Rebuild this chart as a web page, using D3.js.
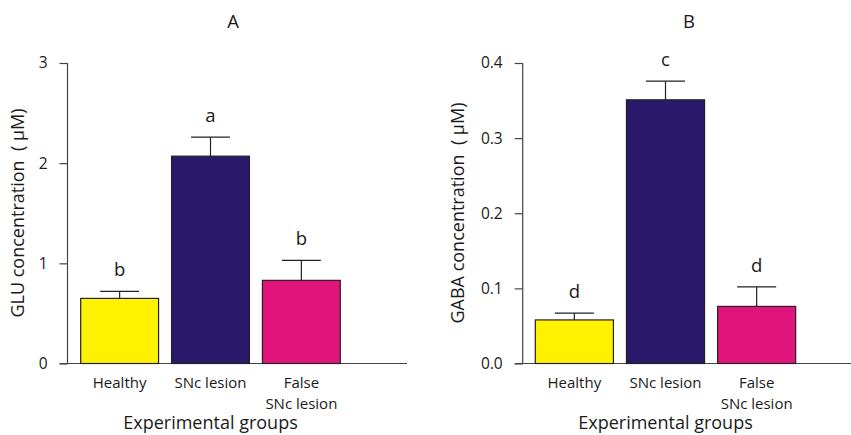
<!DOCTYPE html>
<html>
<head>
<meta charset="utf-8">
<script src="https://cdn.jsdelivr.net/npm/d3@7"></script>
<style>
  body { margin: 0; background: #fff; }
  svg text { font-family: "Open Sans", "Noto Sans", sans-serif; fill: #1a1a1a; white-space: pre; }
</style>
</head>
<body>
<svg id="chart" width="851" height="435"></svg>
<script>
// data
const groups = ["Healthy", "SNc lesion", "False SNc lesion"];
const groupLines = [["Healthy"], ["SNc lesion"], ["False", "SNc lesion"]];
const barColors = ["#fff200", "#2a186b", "#e0147a"];

const gluMean = [0.65, 2.07, 0.83];
const gluErr = [0.07, 0.19, 0.20];
const gluLetters = ["b", "a", "b"];
const gluTicks = [0, 1, 2, 3];

const gabaMean = [0.058, 0.351, 0.076];
const gabaErr = [0.009, 0.025, 0.026];
const gabaLetters = ["d", "c", "d"];
const gabaTicks = [0, 0.1, 0.2, 0.3, 0.4];

const svg = d3.select("#chart");

// one panel: axes, bars, error bars, letters
function drawPanel(p) {
    const g = svg.append("g");

    const y = d3.scaleLinear().domain(p.domain).range([363.5, 63]);
    const x = d3.scaleBand().domain(groups).range(p.barRange).paddingInner(0.143).paddingOuter(0);

    // y axis
    const yAxis = d3.axisLeft(y).tickValues(p.ticks).tickSize(8).tickFormat(p.fmt);
    const ya = g.append("g").attr("transform", `translate(${p.axisX},0)`).call(yAxis);
    ya.select(".domain").attr("d", `M0,${y(p.domain[0])}V${y(p.domain[1])}`);
    ya.selectAll("line, path").attr("stroke", "#444").attr("stroke-width", 1.2);
    ya.selectAll("text").attr("font-size", 15.5).attr("x", -20).attr("fill", "#1a1a1a");

    // x axis baseline
    g.append("line")
        .attr("x1", p.axisX - 8).attr("x2", p.axisEnd)
        .attr("y1", y(0)).attr("y2", y(0))
        .attr("stroke", "#444").attr("stroke-width", 1.2);

    const rows = groups.map((k, i) => ({key: k, mean: p.mean[i], err: p.err[i], letter: p.letters[i], color: barColors[i], lines: groupLines[i]}));

    // error bars behind bars
    const errG = g.append("g").attr("stroke", "#222").attr("stroke-width", 1.2);
    errG.selectAll("line.v").data(rows).join("line").attr("class", "v")
        .attr("x1", d => x(d.key) + x.bandwidth() / 2)
        .attr("x2", d => x(d.key) + x.bandwidth() / 2)
        .attr("y1", d => y(d.mean)).attr("y2", d => y(d.mean + d.err));
    errG.selectAll("line.c").data(rows).join("line").attr("class", "c")
        .attr("x1", d => x(d.key) + x.bandwidth() / 4)
        .attr("x2", d => x(d.key) + x.bandwidth() * 3 / 4)
        .attr("y1", d => y(d.mean + d.err)).attr("y2", d => y(d.mean + d.err));

    g.selectAll("rect").data(rows).join("rect")
        .attr("x", d => x(d.key))
        .attr("width", x.bandwidth())
        .attr("y", d => y(d.mean))
        .attr("height", d => y(0) - y(d.mean))
        .attr("fill", d => d.color)
        .attr("stroke", "#222")
        .attr("stroke-width", 1.2);

    // significance letters
    g.selectAll("text.let").data(rows).join("text").attr("class", "let")
        .attr("x", d => x(d.key) + x.bandwidth() / 2)
        .attr("y", d => y(d.mean + d.err) - 15)
        .attr("text-anchor", "middle")
        .attr("font-size", 18.5)
        .text(d => d.letter);

    // category labels, one text per line
    rows.forEach(d => {
        d.lines.forEach((line, i) => {
            g.append("text")
                .attr("x", x(d.key) + x.bandwidth() / 2)
                .attr("y", 388 + i * 20.5)
                .attr("text-anchor", "middle")
                .attr("font-size", 15)
                .text(line);
        });
    });

    g.append("text")
        .attr("x", (p.barRange[0] + p.barRange[1]) / 2)
        .attr("y", 429)
        .attr("text-anchor", "middle")
        .attr("font-size", 18)
        .text("Experimental groups");

    g.append("text")
        .attr("transform", `translate(${p.labelX},213) rotate(-90)`)
        .attr("text-anchor", "middle")
        .attr("font-size", 18)
        .text(p.yLabel);

    g.append("text")
        .attr("x", p.titleX).attr("y", 28)
        .attr("text-anchor", "middle")
        .attr("font-size", 18.5)
        .text(p.title);
}

drawPanel({
    title: "A", titleX: 233,
    domain: [0, 3], ticks: gluTicks, fmt: d3.format("d"),
    axisX: 67.5, axisEnd: 407, barRange: [80.7, 340.3],
    mean: gluMean, err: gluErr, letters: gluLetters,
    labelX: 24, yLabel: "GLU concentration  ( \u00b5M)"
});

drawPanel({
    title: "B", titleX: 689,
    domain: [0, 0.4], ticks: gabaTicks, fmt: d3.format(".1f"),
    axisX: 522.7, axisEnd: 851, barRange: [535.3, 795.7],
    mean: gabaMean, err: gabaErr, letters: gabaLetters,
    labelX: 464, yLabel: "GABA concentration  ( \u00b5M)"
});
</script>
</body>
</html>
